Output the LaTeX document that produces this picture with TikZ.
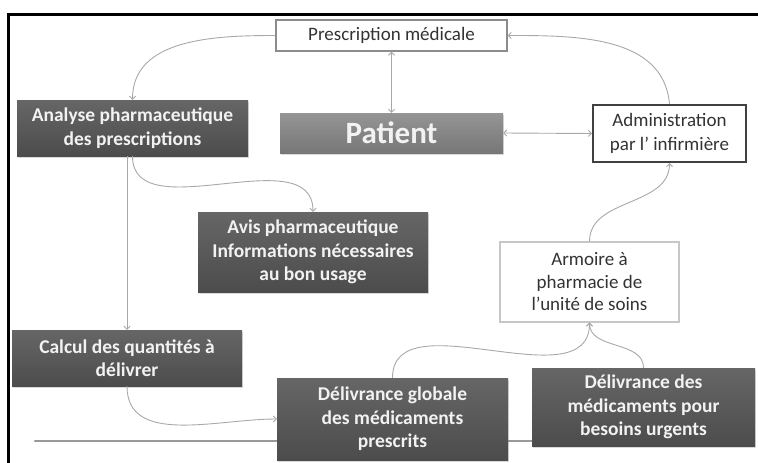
\documentclass[tikz,border=0pt]{standalone}
\usepackage{fontspec}
\setmainfont{Carlito}
\usepackage{tikz}
\usetikzlibrary{arrows.meta,shadows,backgrounds}
\definecolor{dtop}{HTML}{666666}
\definecolor{dbot}{HTML}{4C4C4C}
\definecolor{ptop}{HTML}{959595}
\definecolor{pbot}{HTML}{777777}
\definecolor{fil}{HTML}{A8A8A8}
\tikzset{
  dbox/.style={align=center,text=white!95!black,font=\fontsize{19.5}{23.5}\selectfont\bfseries,top color=dtop,bottom color=dbot,inner sep=2pt,drop shadow={shadow xshift=1pt,shadow yshift=-2pt,opacity=.3}},
  wbox/.style={draw=#1,fill=white,align=center,text=black!80,font=\fontsize{19}{23}\selectfont,inner sep=2pt},
  wbox/.default={black!45},
  arr/.style={-{Straight Barb[length=3pt,width=6pt]},fil,line width=0.9pt},
  arr2/.style={{Straight Barb[length=3pt,width=6pt]}-{Straight Barb[length=3pt,width=6pt]},fil,line width=0.9pt},
  ligne/.style={line width=2.5pt,black!40,line cap=round},
}

\begin{document}
\begin{tikzpicture}[x=1pt,y=1pt]
 \useasboundingbox (0,0) rectangle (758,-463); \clip (0,0) rectangle (758,-463);
 \draw[line width=3pt] (8.5,-14.5) rectangle (800,-520);
 % haut
 \node[wbox,line width=1.4pt,minimum width=231pt,minimum height=31pt] (presc) at (391.5,-35.5){Prescription médicale};
 \node[dbox,minimum width=231pt,minimum height=56pt] (analyse) at (132.5,-128){Analyse pharmaceutique\\des prescriptions};
 \node[dbox,top color=ptop,bottom color=pbot,font=\fontsize{31}{33}\selectfont\bfseries,minimum width=223pt,minimum height=40pt] (patient) at (391.5,-133){Patient};
 \node[wbox=black!75,line width=2pt,minimum width=153pt,minimum height=57pt,font=\fontsize{19}{24}\selectfont] (admin) at (669.5,-133.5){Administration\\par l’ infirmière};
 % milieu
 \node[dbox,minimum width=230pt,minimum height=80pt] (avis) at (313,-252){Avis pharmaceutique\\Informations nécessaires\\au bon usage};
 \node[wbox=black!22,line width=1.2pt,minimum width=179pt,minimum height=80pt,font=\fontsize{19}{22.5}\selectfont] (armoire) at (589.5,-282){Armoire à\\pharmacie de\\l'unité de soins};
 % bas
 \node[dbox,minimum width=230pt,minimum height=56pt] (calcul) at (127,-358){Calcul des quantités à\\délivrer};
 \node[dbox,minimum width=231pt,minimum height=82pt] (globale) at (392.5,-419){Délivrance globale\\des médicaments\\prescrits};
 \node[dbox,minimum width=223pt,minimum height=78pt] (urgents) at (643.5,-407){Délivrance des\\médicaments pour\\besoins urgents};
 \coordinate (ldeb) at (35,-441);
 \begin{scope}[on background layer]
  \draw[ligne] (ldeb) -- (ldeb -| urgents.west);
 \end{scope}
 % fleches
 \draw[arr] (presc.west) to[out=180,in=90] (analyse.north);
 \draw[arr2] (presc.south) -- (patient.north);
 \draw[arr2] (patient.east) -- (admin.west);
 \draw[arr] (admin.north) to[out=95,in=0] (presc.east);
 \draw[arr] (analyse.south) to[out=-90,in=90] (avis.north);
 \draw[arr] (analyse.south -| calcul.north) -- (calcul.north);
 \draw[arr] (calcul.south) to[out=-90,in=180] (globale.west);
 \draw[arr] (globale.north) to[out=90,in=-90] (armoire.south);
 \draw[arr] (urgents.north) to[out=90,in=-90] (armoire.south);
 \draw[arr] (armoire.north) to[out=90,in=-90] (admin.south);
\end{tikzpicture}
\end{document}
